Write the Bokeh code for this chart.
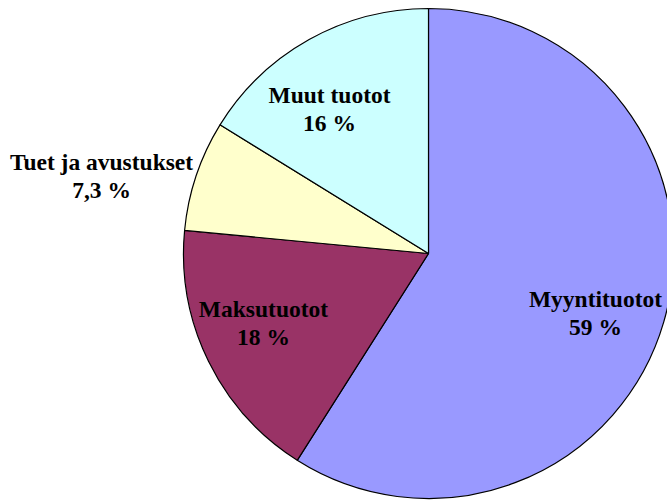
import math
from bokeh.plotting import figure
from bokeh.models import Range1d, ColumnDataSource
from bokeh.core.properties import value
from bokeh.embed import file_html
from bokeh.resources import INLINE

# Data (clockwise from 12 o'clock)
categories = ["Myyntituotot", "Maksutuotot", "Tuet ja avustukset", "Muut tuotot"]
shares = [59.0, 17.5, 7.3, 16.2]
pct_labels = ["59 %", "18 %", "7,3 %", "16 %"]
colors = ["#9999FF", "#993366", "#FFFFCC", "#CCFFFF"]

# Layout (pixel-like coordinates, y measured up from bottom of page)
W, H = 667, 500
cx, cy, r = 428, 247, 245
label_x = [595, 263, 101, 329]
label_y1 = [202, 192, 339, 406]   # baseline of name line
line_gap = 28

total = sum(shares)
starts, ends = [], []
a = math.pi / 2
for s in shares:
    starts.append(a)
    a -= s / total * 2 * math.pi
    ends.append(a)

src = ColumnDataSource(dict(start=starts, end=ends, color=colors,
                            cat=categories, pct=pct_labels,
                            lx=label_x, ly1=label_y1,
                            ly2=[v - line_gap for v in label_y1]))

p = figure(width=W, height=H, output_backend="svg", toolbar_location=None,
           x_range=Range1d(0, W), y_range=Range1d(0, H),
           min_border=0, outline_line_color=None)
p.axis.visible = False
p.grid.visible = False
p.background_fill_color = "white"
p.border_fill_color = "white"

p.wedge(x=cx, y=cy, radius=r, start_angle="start", end_angle="end",
        direction="clock", fill_color="color", line_color="black",
        line_width=1.2, source=src)

common = dict(text_font=value("Liberation Serif"), text_font_style="bold",
              text_font_size="23.5px", text_align="center",
              text_baseline="alphabetic", text_color="black", source=src)
p.text(x="lx", y="ly1", text="cat", **common)
p.text(x="lx", y="ly2", text="pct", **common)

open("out.html", "w").write(file_html(p, INLINE))
